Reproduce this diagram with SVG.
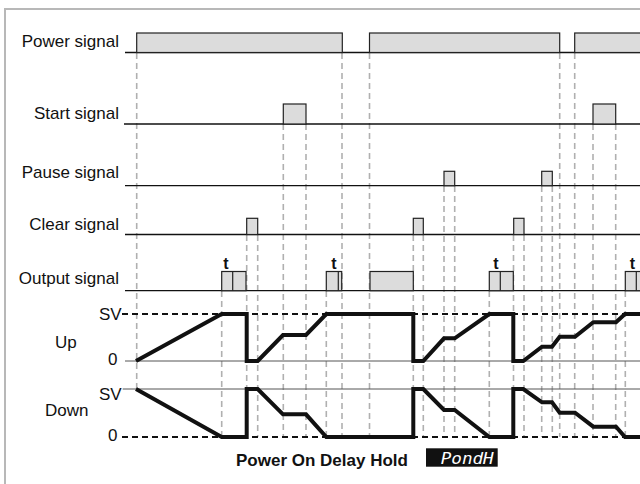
<svg xmlns="http://www.w3.org/2000/svg" width="640" height="484" viewBox="0 0 640 484">
<style>
.lbl{font-family:"Liberation Sans",Arial,sans-serif;font-size:17px;fill:#111}
.bold{font-family:"Liberation Sans",Arial,sans-serif;font-weight:bold;fill:#111}
.base{stroke:#111;stroke-width:1.3;fill:none}
.pulse{fill:#dcdcdc;stroke:#222;stroke-width:1.2}
.div{stroke:#222;stroke-width:1.2}
.guide{stroke:#b0b0b0;stroke-width:1.6;stroke-dasharray:6 4;fill:none}
.ref{stroke:#111;stroke-width:2;stroke-dasharray:6 4;fill:none}
.zero{stroke:#555;stroke-width:1;fill:none}
.curve{stroke:#111;stroke-width:4;fill:none;stroke-linejoin:miter}
</style>
<rect x="0" y="0" width="640" height="484" fill="#fff"/>
<rect x="5" y="9" width="700" height="600" fill="none" stroke="#b8b8b8" stroke-width="2"/>

<g id="guides">
<line class="guide" x1="136.7" y1="53" x2="136.7" y2="389"/>
<line class="guide" x1="221.7" y1="291" x2="221.7" y2="437"/>
<line class="guide" x1="246.7" y1="235" x2="246.7" y2="437"/>
<line class="guide" x1="257.7" y1="235" x2="257.7" y2="437"/>
<line class="guide" x1="283.3" y1="124" x2="283.3" y2="437"/>
<line class="guide" x1="306" y1="124" x2="306" y2="437"/>
<line class="guide" x1="326.3" y1="291" x2="326.3" y2="437"/>
<line class="guide" x1="342" y1="53" x2="342" y2="437"/>
<line class="guide" x1="369.5" y1="53" x2="369.5" y2="437"/>
<line class="guide" x1="413.3" y1="235" x2="413.3" y2="437"/>
<line class="guide" x1="423.3" y1="235" x2="423.3" y2="437"/>
<line class="guide" x1="444" y1="186" x2="444" y2="437"/>
<line class="guide" x1="454.7" y1="186" x2="454.7" y2="437"/>
<line class="guide" x1="489.3" y1="291" x2="489.3" y2="437"/>
<line class="guide" x1="513.5" y1="235" x2="513.5" y2="437"/>
<line class="guide" x1="524" y1="235" x2="524" y2="437"/>
<line class="guide" x1="541.7" y1="186" x2="541.7" y2="437"/>
<line class="guide" x1="552.3" y1="186" x2="552.3" y2="437"/>
<line class="guide" x1="559.7" y1="53" x2="559.7" y2="437"/>
<line class="guide" x1="574.7" y1="53" x2="574.7" y2="437"/>
<line class="guide" x1="593" y1="124" x2="593" y2="437"/>
<line class="guide" x1="615.7" y1="124" x2="615.7" y2="437"/>
<line class="guide" x1="625.3" y1="291" x2="625.3" y2="437"/>
</g>

<g id="power-signal">
<text class="lbl" x="119" y="47" text-anchor="end">Power signal</text>
<line class="base" x1="125" y1="52.5" x2="640" y2="52.5"/>
<rect class="pulse" x="136.7" y="33" width="205.6" height="19.5"/>
<rect class="pulse" x="369.5" y="33" width="190.2" height="19.5"/>
<rect class="pulse" x="574.7" y="33" width="80" height="19.5"/>
</g>

<g id="start-signal">
<text class="lbl" x="119" y="119.3" text-anchor="end">Start signal</text>
<line class="base" x1="124" y1="124" x2="640" y2="124"/>
<rect class="pulse" x="283.3" y="104" width="22.7" height="20"/>
<rect class="pulse" x="593" y="104" width="22.7" height="20"/>
</g>

<g id="pause-signal">
<text class="lbl" x="119" y="178.3" text-anchor="end">Pause signal</text>
<line class="base" x1="125" y1="185.7" x2="640" y2="185.7"/>
<rect class="pulse" x="444" y="171.3" width="10.7" height="14.4"/>
<rect class="pulse" x="541.7" y="171.3" width="10.6" height="14.4"/>
</g>

<g id="clear-signal">
<text class="lbl" x="119" y="230" text-anchor="end">Clear signal</text>
<line class="base" x1="125" y1="234.5" x2="640" y2="234.5"/>
<rect class="pulse" x="246.7" y="218.3" width="11" height="16.2"/>
<rect class="pulse" x="413.3" y="218.3" width="10" height="16.2"/>
<rect class="pulse" x="513.7" y="218.3" width="10.3" height="16.2"/>
</g>

<g id="output-signal">
<text class="lbl" x="119" y="284" text-anchor="end">Output signal</text>
<line class="base" x1="125" y1="290.7" x2="640" y2="290.7"/>
<rect class="pulse" x="221.7" y="271.5" width="24.3" height="19.2"/>
<line class="div" x1="232.7" y1="271.5" x2="232.7" y2="290.7"/>
<text class="bold" x="226" y="269" font-size="16" text-anchor="middle">t</text>
<rect class="pulse" x="326.3" y="271.5" width="15.4" height="19.2"/>
<line class="div" x1="338.3" y1="271.5" x2="338.3" y2="290.7"/>
<text class="bold" x="334" y="269" font-size="16" text-anchor="middle">t</text>
<rect class="pulse" x="370" y="271.5" width="43.3" height="19.2"/>
<rect class="pulse" x="489.3" y="271.5" width="24" height="19.2"/>
<line class="div" x1="500.3" y1="271.5" x2="500.3" y2="290.7"/>
<text class="bold" x="496" y="269" font-size="16" text-anchor="middle">t</text>
<rect class="pulse" x="625.3" y="271.5" width="30" height="19.2"/>
<line class="div" x1="636.3" y1="271.5" x2="636.3" y2="290.7"/>
<text class="bold" x="632.5" y="269" font-size="16" text-anchor="middle">t</text>
</g>

<g id="up-graph">
<text class="lbl" x="121.7" y="319.5" text-anchor="end">SV</text>
<text class="lbl" x="55" y="348">Up</text>
<text class="lbl" x="117.5" y="364.5" text-anchor="end">0</text>
<line class="ref" x1="122" y1="314" x2="640" y2="314"/>
<line class="zero" x1="125" y1="361" x2="640" y2="361"/>
<polyline class="curve" points="136,361 221.7,314 246.7,314 246.7,361 257.7,361 283,335 306,335 326.3,314 413.3,314 413.3,361 423.3,361 444,338.3 454.7,338.3 489.3,314 513.3,314 513.3,361 523.3,361 542,346.7 552,346.7 559.7,336.7 575,336.7 593.3,322.3 616,322.3 625,314 645,314"/>
</g>

<g id="down-graph">
<text class="lbl" x="121.7" y="400" text-anchor="end">SV</text>
<text class="lbl" x="45" y="415.7">Down</text>
<text class="lbl" x="117.5" y="441" text-anchor="end">0</text>
<line class="zero" x1="122.7" y1="389" x2="640" y2="389"/>
<line class="ref" x1="122" y1="437" x2="640" y2="437"/>
<polyline class="curve" points="136,389 221.7,437 246.7,437 246.7,389 257.7,389 283,414.3 306,414.3 326.3,437 413.3,437 413.3,389 423.3,389 444,410 454.7,410 489.3,437 513.3,437 513.3,389 523.3,389 542,402.3 552,402.3 559.7,412.7 575,412.7 593.3,426.7 616,426.7 625,437 645,437"/>
</g>

<g id="caption">
<text class="bold" x="236" y="465.7" font-size="17">Power On Delay Hold</text>
<rect x="426" y="448.3" width="71.7" height="18.4" fill="#111"/>
<text x="440.7" y="464" font-family="DejaVu Sans Mono,monospace" font-size="16" font-style="italic" fill="#fff" textLength="53" lengthAdjust="spacingAndGlyphs">PondH</text>
</g>
</svg>
